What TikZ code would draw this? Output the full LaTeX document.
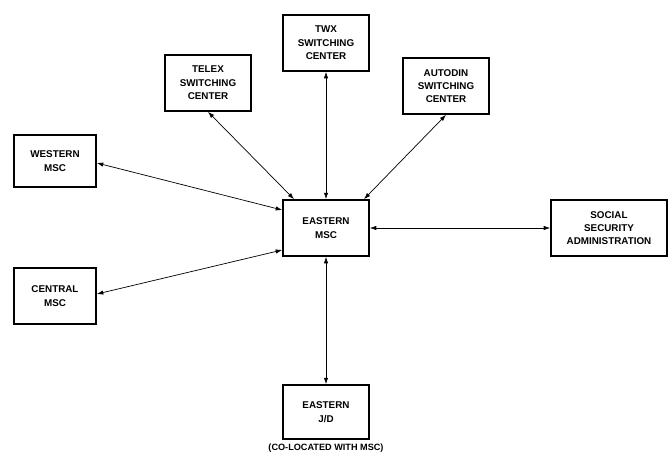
\documentclass[tikz,border=0pt]{standalone}
\usepackage{fontspec}
\setsansfont{Liberation Sans}
\usetikzlibrary{positioning,arrows.meta}

\begin{document}
\begin{tikzpicture}[
    x=0.025cm, y=-0.025cm,
    center box/.style={rectangle, draw, line width=1.2pt, minimum width=2.15cm, minimum height=1.4cm, align=center, inner sep=1pt, font=\sffamily\bfseries\fontsize{7}{9.5}\selectfont},
    wide box/.style={center box, minimum width=2.9cm},
    link/.style={{Latex[length=1.6mm,width=1.1mm]}-{Latex[length=1.6mm,width=1.1mm]}, line width=0.5pt},
    note/.style={font=\sffamily\bfseries\fontsize{6.5}{8}\selectfont, inner sep=1pt}
]
  \useasboundingbox (0,0) rectangle (670,460);

  \node[center box] (eastmsc) at (326,228) {EASTERN\\MSC};
  \node[center box] (twx) at (326,43) {TWX\\SWITCHING\\CENTER};
  \node[center box] (telex) at (208,83) {TELEX\\SWITCHING\\CENTER};
  \node[center box] (autodin) at (446,86) {AUTODIN\\SWITCHING\\CENTER};
  \node[center box, minimum width=2.05cm, minimum height=1.3cm] (west) at (55,161) {WESTERN\\MSC};
  \node[center box, minimum width=2.05cm] (central) at (55,296) {CENTRAL\\MSC};
  \node[wide box] (ssa) at (609,228) {SOCIAL\\SECURITY\\ADMINISTRATION};
  \node[center box, minimum height=1.35cm] (eastjd) at (326,412) {EASTERN\\J/D};
  \node[note, below=2pt of eastjd] (colocated) {(CO-LOCATED WITH MSC)};

  \draw[link] (twx.south) -- (eastmsc.north);
  \draw[link] (telex.south) -- ([xshift=-0.8cm]eastmsc.north);
  \draw[link] (autodin.south) -- ([xshift=0.95cm]eastmsc.north);
  \draw[link] ([yshift=-0.05cm]west.east) -- ([yshift=0.45cm]eastmsc.west);
  \draw[link] ([yshift=0.05cm]central.east) -- ([yshift=-0.55cm]eastmsc.west);
  \draw[link] (ssa.west) -- (eastmsc.east);
  \draw[link] (eastmsc.south) -- (eastjd.north);
\end{tikzpicture}
\end{document}
